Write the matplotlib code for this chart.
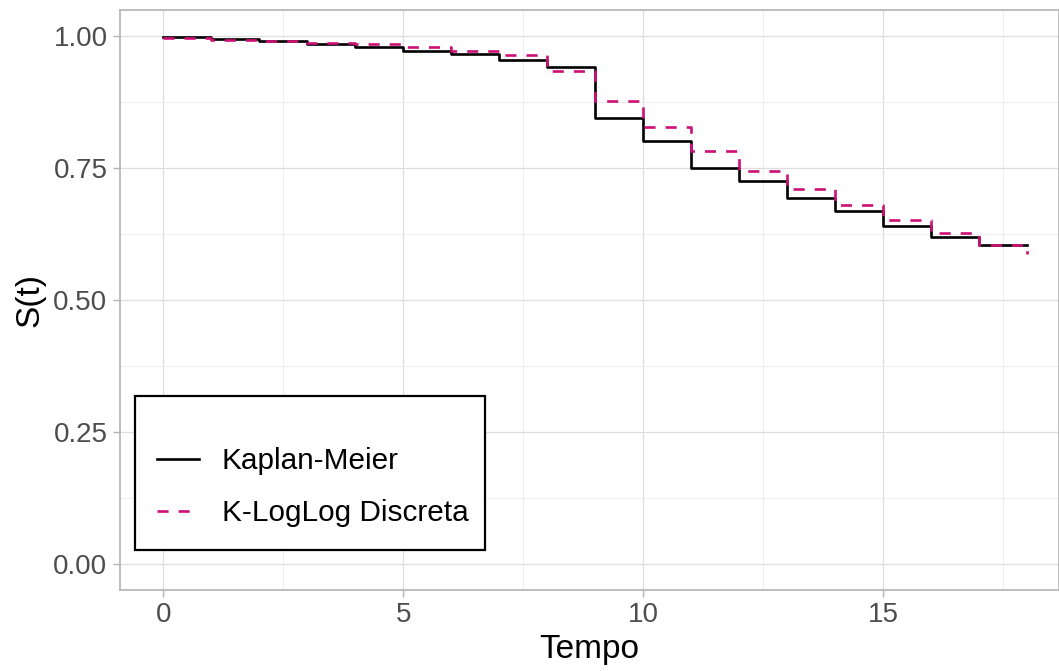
import matplotlib
matplotlib.use("Agg")
import matplotlib.pyplot as plt
from matplotlib.lines import Line2D
from matplotlib.patches import Rectangle
from matplotlib.ticker import MultipleLocator

plt.rcParams['font.family'] = ['Liberation Sans', 'DejaVu Sans']

tempo = list(range(0, 19))
km = [0.999, 0.995, 0.991, 0.986, 0.980, 0.973, 0.967, 0.956, 0.942, 0.845,
      0.802, 0.751, 0.725, 0.694, 0.668, 0.641, 0.620, 0.604, 0.604]
loglog = [0.997, 0.994, 0.992, 0.987, 0.985, 0.980, 0.973, 0.965, 0.935, 0.878,
          0.828, 0.782, 0.744, 0.710, 0.680, 0.652, 0.627, 0.604, 0.587]
labels = ["Kaplan-Meier", "K-LogLog Discreta"]
xticks = [0, 5, 10, 15]
yticks = [0.00, 0.25, 0.50, 0.75, 1.00]

W, H = 1059, 671
fig = plt.figure(figsize=(W / 100, H / 100), dpi=100)
ax = fig.add_axes([120 / W, (H - 590) / H, (W - 120) / W, 580 / H])

pink = '#CD1076'
ax.step(tempo, km, where='post', color='black', lw=1.9, zorder=3)
ax.step(tempo, loglog, where='post', color=pink, lw=1.9, dashes=(4.2, 3.8), zorder=4)

ppu = 48
ax.set_xlim(-0.9, -0.9 + (W - 120) / ppu)
ax.set_ylim(-0.05, 1.05)

ax.set_xticks(xticks)
ax.set_xticklabels([str(v) for v in xticks])
ax.set_yticks(yticks)
ax.set_yticklabels([f"{v:.2f}" for v in yticks])
ax.xaxis.set_minor_locator(MultipleLocator(2.5))
ax.yaxis.set_minor_locator(MultipleLocator(0.125))

ax.grid(which='major', color='#DEDEDE', lw=0.9)
ax.grid(which='minor', color='#EBEBEB', lw=0.6)
ax.set_axisbelow(True)
for s in ax.spines.values():
    s.set_color('#B3B3B3')
    s.set_linewidth(1.2)
ax.tick_params(which='major', length=5, width=1.0, color='#B3B3B3',
               labelcolor='#4D4D4D', labelsize=20, pad=4)
ax.tick_params(which='minor', length=0)

ax.set_xlabel("Tempo", fontsize=24, color='black', labelpad=4)
ax.set_ylabel("S(t)", fontsize=24, color='black', labelpad=6)

# legend frame drawn separately (ggplot-style asymmetric padding)
pw, ph = W - 120, 580
frame = Rectangle(((135 - 120) / pw, (590 - 550) / ph), (485 - 135) / pw, (550 - 396) / ph,
                  transform=ax.transAxes, facecolor='white', edgecolor='black',
                  lw=1.6, zorder=5, clip_on=False)
ax.add_patch(frame)

handles = [Line2D([], [], color='black', lw=1.9),
           Line2D([], [], color=pink, lw=1.9, dashes=(4.2, 3.8))]
leg = ax.legend(handles, labels, title=" ", title_fontsize=6, fontsize=21.4,
                loc='lower left', bbox_to_anchor=((135 - 120) / pw, (590 - 549) / ph),
                frameon=False, handlelength=1.41, handletextpad=0.77, labelspacing=0.8,
                borderpad=0.74, borderaxespad=0)
leg.set_zorder(6)

fig.savefig("out.png", dpi=100)
